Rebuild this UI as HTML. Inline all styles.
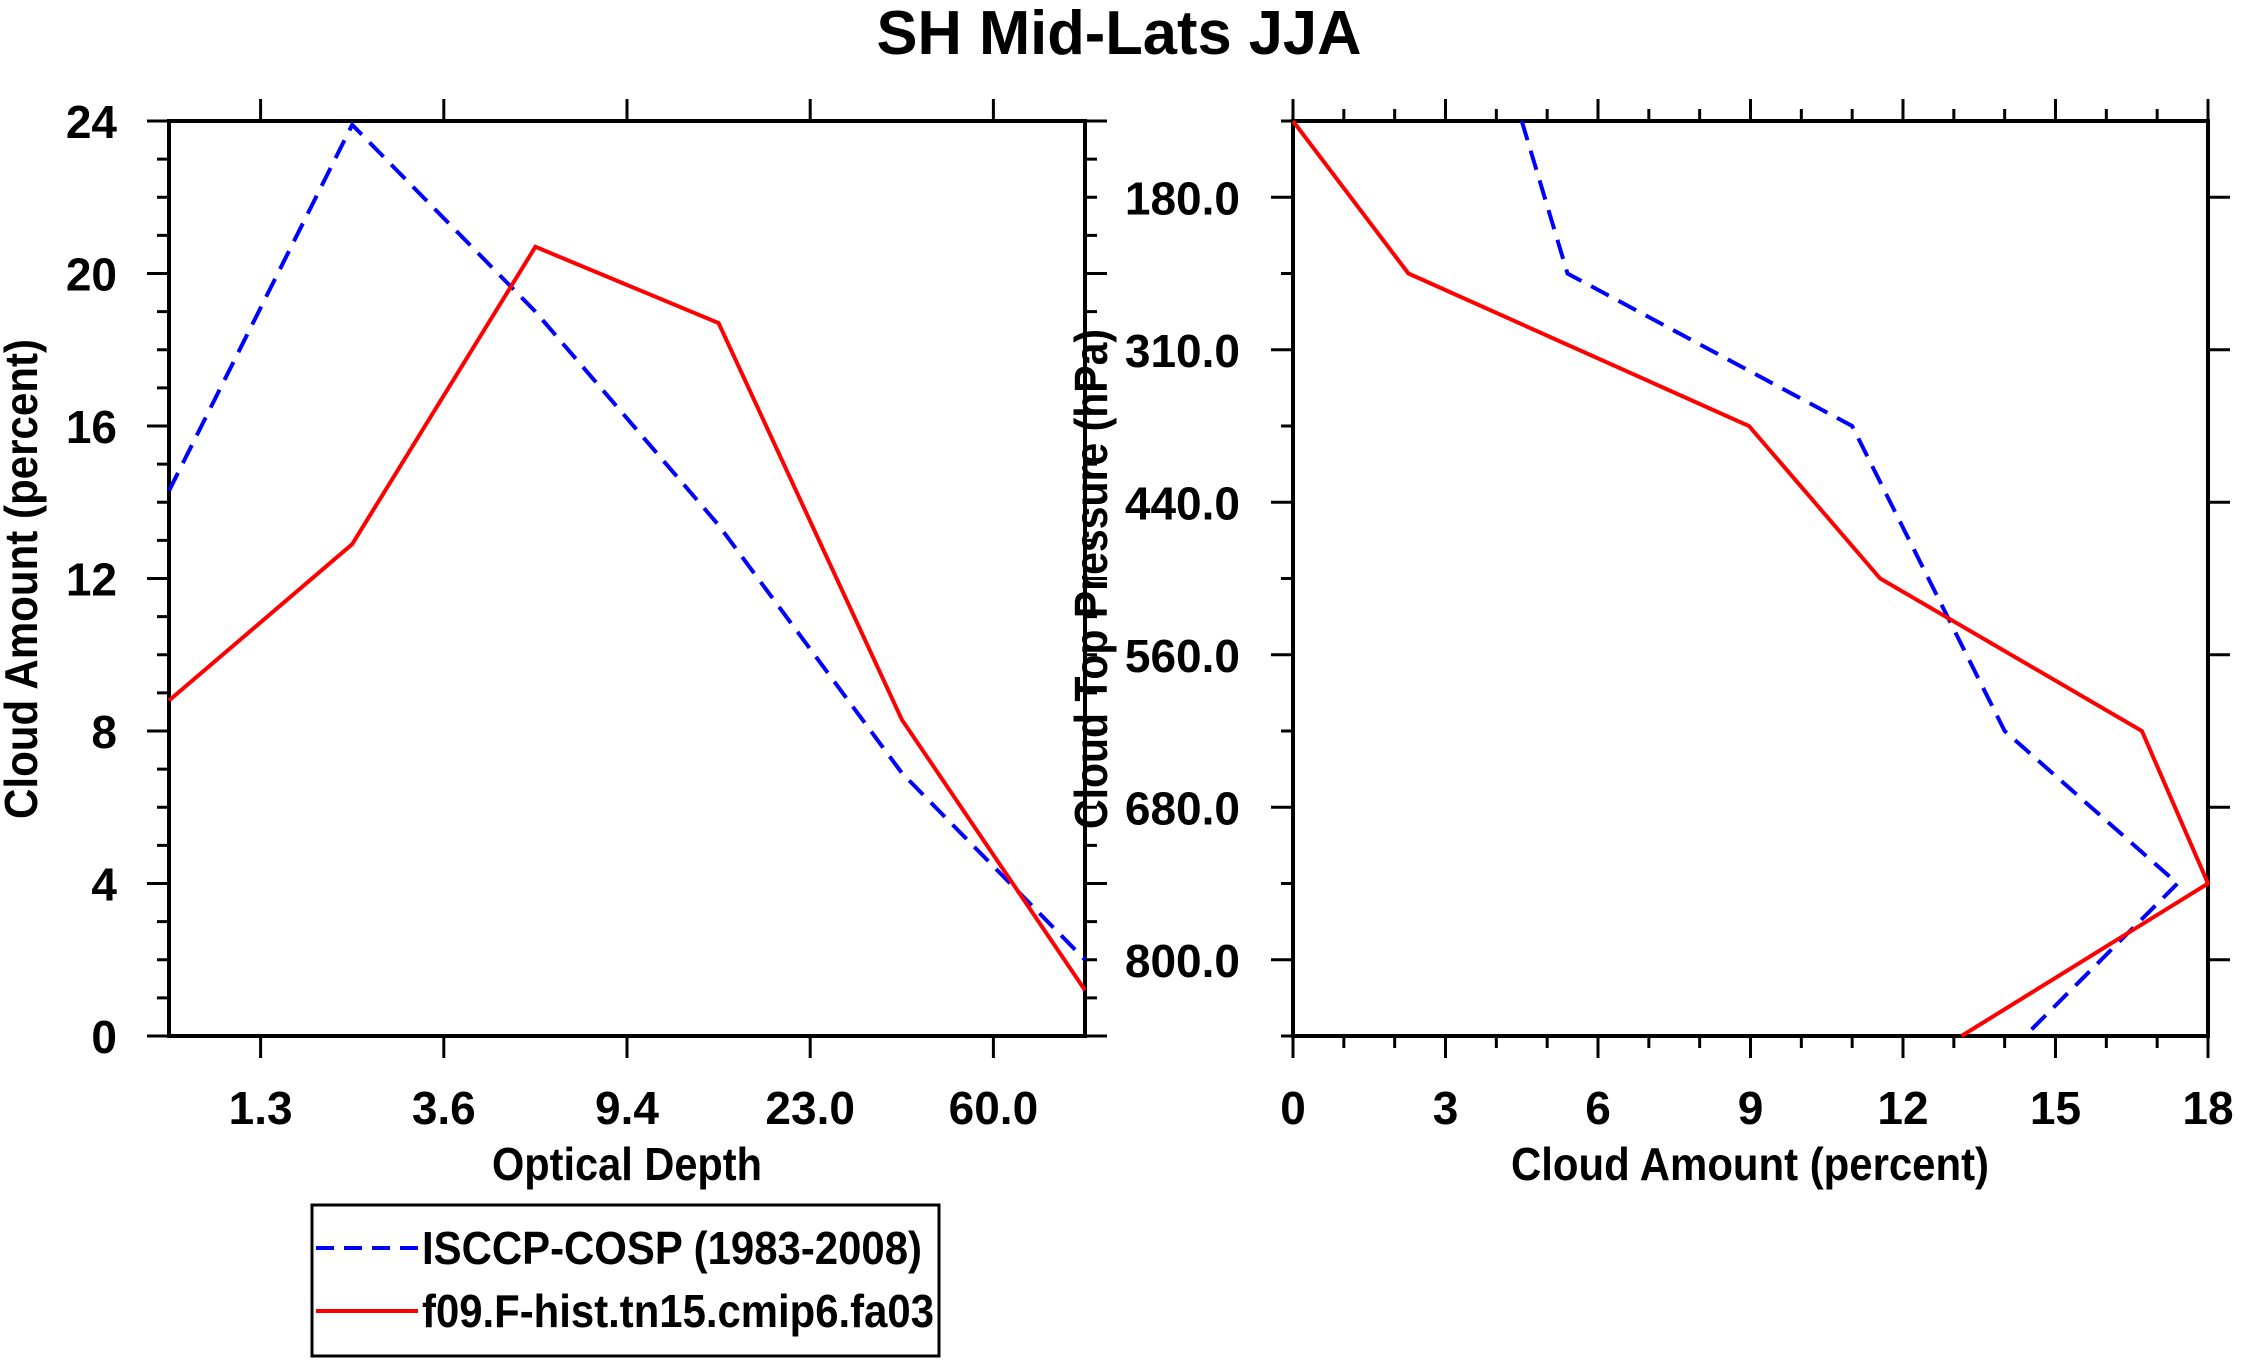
<!DOCTYPE html>
<html><head><meta charset="utf-8"><style>
html,body{margin:0;padding:0;background:#fff;}
svg{display:block;font-family:"Liberation Sans",sans-serif;font-weight:bold;}
</style></head><body>
<svg id="chart" width="2241" height="1365" viewBox="0 0 2241 1365" xmlns="http://www.w3.org/2000/svg">
<text x="1119" y="54" text-anchor="middle" font-size="62" textLength="485" lengthAdjust="spacingAndGlyphs">SH Mid-Lats JJA</text>
<g id="left"></g>
<g id="right"></g>
<g>
<rect x="312" y="1205" width="627" height="151" fill="none" stroke="#000" stroke-width="3"/>
<line x1="316" y1="1248" x2="418" y2="1248" stroke="#00f" stroke-width="4" stroke-dasharray="18,10"/>
<text x="422" y="1264" font-size="46" textLength="500" lengthAdjust="spacingAndGlyphs">ISCCP-COSP (1983-2008)</text>
<line x1="316" y1="1311" x2="418" y2="1311" stroke="#f00" stroke-width="4"/>
<text x="422" y="1327" font-size="46" textLength="512" lengthAdjust="spacingAndGlyphs">f09.F-hist.tn15.cmip6.fa03</text>
</g>
</svg>
<script>
// Left panel data
const tauLabels = ["1.3","3.6","9.4","23.0","60.0"];
const tauIsccp = [14.3, 23.9, 19.0, 13.4, 6.9, 2.0];
const tauModel = [8.8, 12.9, 20.7, 18.7, 8.3, 1.2];
const amountTicks = [0,4,8,12,16,20,24];
// Right panel data
const pressLabels = ["180.0","310.0","440.0","560.0","680.0","800.0"];
const pressIsccp = [4.5, 5.4, 11.0, 12.5, 14.0, 17.4, 14.4];
const pressModel = [0.0, 2.27, 8.97, 11.55, 16.7, 18.0, 13.15];
const amountTicksX = [0,3,6,9,12,15,18];

const NS="http://www.w3.org/2000/svg";
function mk(parent, tag, attrs, text){
  const e=document.createElementNS(NS,tag);
  for(const k in attrs) e.setAttribute(k,attrs[k]);
  if(text!==undefined) e.textContent=text;
  parent.appendChild(e); return e;
}
const TOP=121, BOT=1036, FS=46, LW=4;

// ---------- Left panel ----------
const L=document.getElementById('left');
const lx0=169, lx1=1085;
const lxScale=i=>lx0+(lx1-lx0)*i/(tauIsccp.length-1);
const lyScale=v=>BOT-(BOT-TOP)*v/24;
let fr=mk(L,'rect',{x:lx0,y:TOP,width:lx1-lx0,height:BOT-TOP,fill:'none',stroke:'#000','stroke-width':4});


for(let v=0;v<=24;v++){
  const y=lyScale(v), major=v%4===0, len=major?22:12;
  let t=mk(L,'line',{x1:lx0-len,y1:y,x2:lx0,y2:y,stroke:'#000','stroke-width':3});
  
  
  let t2=mk(L,'line',{x1:lx1,y1:y,x2:lx1+len,y2:y,stroke:'#000','stroke-width':3});
  
  
}
amountTicks.forEach(v=>{
  let tx=mk(L,'text',{x:117,y:lyScale(v)+17,'text-anchor':'end','font-size':FS},String(v));
  
  
});
tauLabels.forEach((lab,i)=>{
  const x=lxScale(i+0.5);
  let a=mk(L,'line',{x1:x,y1:BOT,x2:x,y2:BOT+22,stroke:'#000','stroke-width':3});
  
  
  let b=mk(L,'line',{x1:x,y1:TOP-22,x2:x,y2:TOP,stroke:'#000','stroke-width':3});
  
  
  let tx=mk(L,'text',{x:x,y:1124,'text-anchor':'middle','font-size':FS},lab);
  
  
});
let lxt=mk(L,'text',{x:627,y:1180,'text-anchor':'middle','font-size':FS,textLength:270,lengthAdjust:'spacingAndGlyphs'},'Optical Depth');


let lyt=mk(L,'text',{x:0,y:0,'text-anchor':'middle','font-size':FS,textLength:480,lengthAdjust:'spacingAndGlyphs',transform:'translate(37,579) rotate(-90)'},'Cloud Amount (percent)');


let lb=mk(L,'polyline',{points:tauIsccp.map((v,i)=>lxScale(i)+','+lyScale(v)).join(' '),fill:'none',stroke:'#00f','stroke-width':LW,'stroke-dasharray':'20,11'});


let lr=mk(L,'polyline',{points:tauModel.map((v,i)=>lxScale(i)+','+lyScale(v)).join(' '),fill:'none',stroke:'#f00','stroke-width':LW});



// ---------- Right panel ----------
const R=document.getElementById('right');
const rx0=1293, rx1=2208;
const rxScale=v=>rx0+(rx1-rx0)*v/18;
const ryScale=i=>TOP+(BOT-TOP)*i/(pressIsccp.length-1);
let fr2=mk(R,'rect',{x:rx0,y:TOP,width:rx1-rx0,height:BOT-TOP,fill:'none',stroke:'#000','stroke-width':4});


for(let v=0;v<=18;v++){
  const x=rxScale(v), major=v%3===0, len=major?22:12;
  let t=mk(R,'line',{x1:x,y1:BOT,x2:x,y2:BOT+len,stroke:'#000','stroke-width':3});
  
  
  let t2=mk(R,'line',{x1:x,y1:TOP-len,x2:x,y2:TOP,stroke:'#000','stroke-width':3});
  
  
}
amountTicksX.forEach(v=>{
  let tx=mk(R,'text',{x:rxScale(v),y:1124,'text-anchor':'middle','font-size':FS},String(v));
  
  
});
for(let i=0;i<pressIsccp.length;i++){
  const y=ryScale(i);
  let t=mk(R,'line',{x1:rx0-12,y1:y,x2:rx0,y2:y,stroke:'#000','stroke-width':3});
  
  
}
pressLabels.forEach((lab,i)=>{
  const y=ryScale(i+0.5);
  let a=mk(R,'line',{x1:rx0-22,y1:y,x2:rx0,y2:y,stroke:'#000','stroke-width':3});
  
  
  let b=mk(R,'line',{x1:rx1,y1:y,x2:rx1+22,y2:y,stroke:'#000','stroke-width':3});
  
  
  let tx=mk(R,'text',{x:1240,y:y+17,'text-anchor':'end','font-size':FS},lab);
  
  
});
let rxt=mk(R,'text',{x:1750,y:1180,'text-anchor':'middle','font-size':FS,textLength:478,lengthAdjust:'spacingAndGlyphs'},'Cloud Amount (percent)');


let ryt=mk(R,'text',{x:0,y:0,'text-anchor':'middle','font-size':FS,textLength:500,lengthAdjust:'spacingAndGlyphs',transform:'translate(1107,579) rotate(-90)'},'Cloud Top Pressure (hPa)');


let rb=mk(R,'polyline',{points:pressIsccp.map((v,i)=>rxScale(v)+','+ryScale(i)).join(' '),fill:'none',stroke:'#00f','stroke-width':LW,'stroke-dasharray':'20,11'});


let rr=mk(R,'polyline',{points:pressModel.map((v,i)=>rxScale(v)+','+ryScale(i)).join(' '),fill:'none',stroke:'#f00','stroke-width':LW});


</script>
</body></html>
